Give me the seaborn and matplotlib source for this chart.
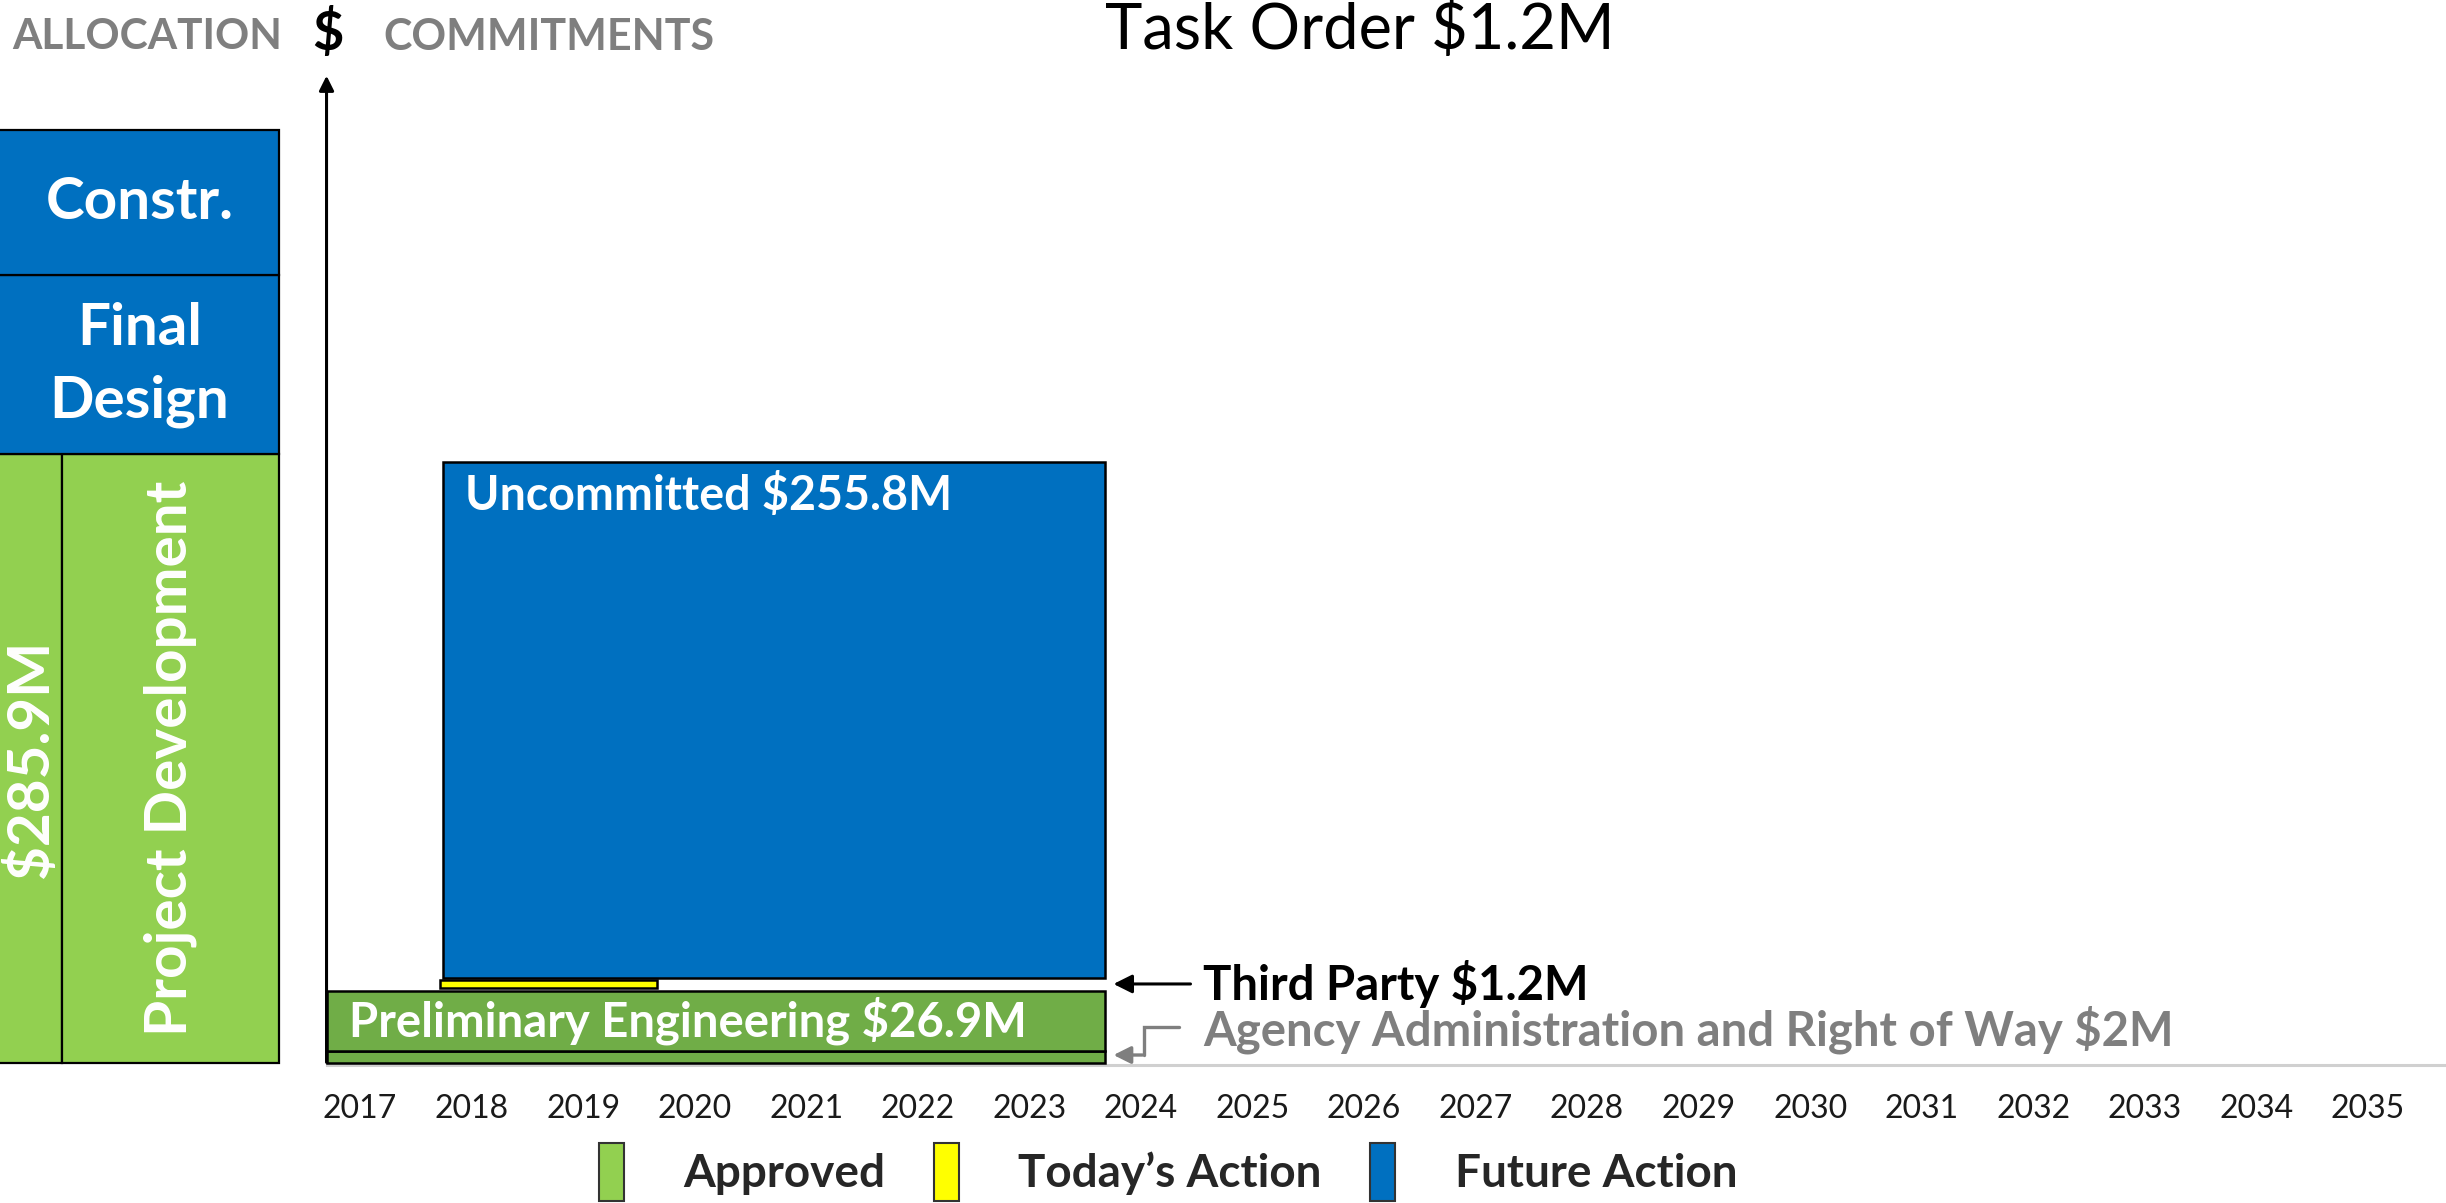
import matplotlib
matplotlib.use("Agg")
import matplotlib.pyplot as plt
import seaborn as sns
from matplotlib.patches import Patch

sns.set_theme(style="white")
plt.rcParams['font.family'] = ['Lato', 'DejaVu Sans']

# ---------------- data ----------------
years = list(range(2017, 2036))

# commitments (display heights, in $M-like units)
commit_labels = ["Agency Administration and Right of Way $2M",
                 "Preliminary Engineering $26.9M",
                 "Third Party $1.2M",
                 "Uncommitted $255.8M"]
commit_start = [2016.70, 2016.70, 2017.72, 2017.74]
commit_end = [2023.68, 2023.68, 2019.66, 2023.68]
commit_bottom = [0.0, 5.7, 35.7, 40.5]
commit_height = [5.7, 28.6, 3.8, 245.4]
commit_status = ["Committed", "Committed", "Today", "Future"]

# allocation column (left)
alloc_labels = ["$285.9M", "Project Development", "Final\nDesign", "Constr."]
alloc_start = [2013.70, 2014.33, 2013.70, 2013.70]
alloc_end = [2014.33, 2016.27, 2016.27, 2016.27]
alloc_bottom = [0.0, 0.0, 289.5, 375.0]
alloc_height = [289.5, 289.5, 85.5, 69.0]
alloc_status = ["Approved", "Approved", "Future", "Future"]

legend_labels = ["Approved", "Today\u2019s Action", "Future Action"]
legend_status = ["Approved", "Today", "Future"]

colors = {"Approved": "#92D050", "Committed": "#70AD47",
          "Today": "#FFFF00", "Future": "#0070C0"}
GRAY = "#7F7F7F"

# ---------------- layout ----------------
W, H = 2446, 1203
fig = plt.figure(figsize=(W / 100, H / 100), dpi=100)
ax = fig.add_axes([0, 0, 1, 1])
ax.set_facecolor("white")

PX_PER_YEAR = 111.55
PX_PER_UNIT = 2.102
X0 = 2017 - 360 / PX_PER_YEAR
X1 = X0 + W / PX_PER_YEAR
Y0 = -(H - 1063) / PX_PER_UNIT
Y1 = 1063 / PX_PER_UNIT
ax.set_xlim(X0, X1)
ax.set_ylim(Y0, Y1)

axis_x = commit_start[0]

# allocation bars
for s, e, b, h, st in zip(alloc_start, alloc_end, alloc_bottom, alloc_height, alloc_status):
    ax.bar(x=s, height=h, width=e - s, bottom=b, align="edge", color=colors[st],
           edgecolor="black", linewidth=1.6, zorder=2)

# commitment bars
for s, e, b, h, st in zip(commit_start, commit_end, commit_bottom, commit_height, commit_status):
    ax.bar(x=s, height=h, width=e - s, bottom=b, align="edge", color=colors[st],
           edgecolor="black", linewidth=1.8, zorder=3)

# allocation texts
txt_kw = dict(color="white", fontweight="bold", ha="center", va="center", zorder=5)
for lab, s, e, b, h in zip(alloc_labels, alloc_start, alloc_end, alloc_bottom, alloc_height):
    cx = (max(s, X0) + e) / 2
    if lab.startswith("$"):
        ax.text(cx, b + h * 0.5, lab, rotation=90, fontsize=42, **txt_kw)
    elif lab.startswith("Project"):
        ax.text(cx, b + h * 0.5, lab, rotation=90, fontsize=42, **txt_kw)
    else:
        ax.text(cx, b + h / 2, lab, fontsize=42, linespacing=1.45, **txt_kw)

# commitment labels inside bars
ax.annotate(commit_labels[3], xy=(commit_start[3], commit_bottom[3] + commit_height[3]),
            xytext=(16, -24), textcoords="offset points", color="white",
            fontweight="bold", fontsize=33.5, ha="left", va="center", zorder=5)
ax.annotate(commit_labels[1], xy=(commit_start[1], commit_bottom[1] + commit_height[1] / 2),
            xytext=(16, 0), textcoords="offset points", color="white",
            fontweight="bold", fontsize=34, ha="left", va="center", zorder=5)

# side labels
bar_end = max(commit_end)
label_x = bar_end + 0.88
tp_y = commit_bottom[2] + commit_height[2] / 2
ax.text(label_x, tp_y, commit_labels[2], color="black", fontweight="bold",
        fontsize=34, ha="left", va="center")
ax.annotate("", xy=(bar_end + 0.05, tp_y), xytext=(label_x - 0.09, tp_y),
            arrowprops=dict(arrowstyle="-|>", color="black", lw=2.2, mutation_scale=28))

ag_text_y = 15.7
ag_y = 3.8
ax.text(label_x, ag_text_y, commit_labels[0], color=GRAY, fontweight="bold",
        fontsize=34, ha="left", va="center")
elbow_x = bar_end + 0.35
ax.plot([label_x - 0.22, elbow_x, elbow_x], [ag_text_y + 1.4, ag_text_y + 1.4, ag_y],
        color=GRAY, lw=2.4, solid_joinstyle="miter")
ax.annotate("", xy=(bar_end + 0.05, ag_y), xytext=(elbow_x + 0.01, ag_y),
            arrowprops=dict(arrowstyle="-|>", color=GRAY, lw=2.4, mutation_scale=26))

# y axis arrow
ax.annotate("", xy=(axis_x, 471), xytext=(axis_x, -1),
            arrowprops=dict(arrowstyle="-|>", color="black", lw=2.2, mutation_scale=22),
            zorder=6)

# x axis
for sp in ["left", "right", "top"]:
    ax.spines[sp].set_visible(False)
ax.spines["bottom"].set_position(("data", -1))
ax.spines["bottom"].set_bounds(axis_x, X1)
ax.spines["bottom"].set_color("#D0D0D0")
ax.spines["bottom"].set_linewidth(2.2)
ax.set_xticks(years)
ax.set_xticklabels([str(y) for y in years])
ax.tick_params(axis="x", length=0, pad=21, labelsize=23, labelcolor="#1a1a1a")
ax.set_yticks([])
ax.grid(False)

# header texts
fig.text(147 / W, 1 - 37 / H, "ALLOCATION", color=GRAY, fontweight="bold",
         fontsize=30.5, ha="center", va="center")
fig.text(328 / W, 1 - 34 / H, "$", color="black", fontweight="bold",
         fontsize=39, ha="center", va="center")
fig.text(549 / W, 1 - 37 / H, "COMMITMENTS", color=GRAY, fontweight="bold",
         fontsize=31, ha="center", va="center")
fig.text(1360 / W, 1 - 30 / H, "Task Order $1.2M", color="black",
         fontsize=45.5, ha="center", va="center")

# legend
handles = [Patch(facecolor=colors[s], edgecolor="#333333", linewidth=1.5) for s in legend_status]
fig.legend(handles, legend_labels, loc="center", bbox_to_anchor=(1168 / W, 1 - 1172 / H),
           ncol=3, frameon=False, prop={"weight": "bold", "size": 33},
           handlelength=0.55, handleheight=1.55, handletextpad=1.3, columnspacing=1.05,
           borderpad=0)

fig.savefig("out.png", dpi=100)
